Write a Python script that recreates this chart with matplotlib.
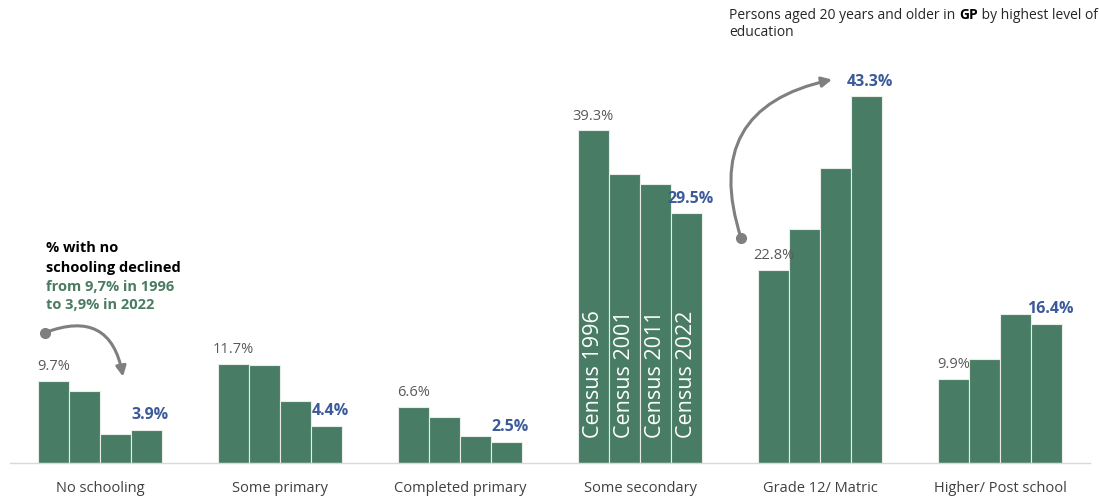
import matplotlib.pyplot as plt
import numpy as np

# Highest level of education, persons aged 20+ in GP (%)
categories = ['No schooling', 'Some primary', 'Completed primary',
              'Some secondary', 'Grade 12/ Matric', 'Higher/ Post school']
census_years = ['Census 1996', 'Census 2001', 'Census 2011', 'Census 2022']
c1996 = [9.7, 11.7, 6.6, 39.3, 22.8, 9.9]
c2001 = [8.5, 11.6, 5.4, 34.2, 27.7, 12.3]
c2011 = [3.4, 7.3, 3.2, 33.0, 34.9, 17.6]
c2022 = [3.9, 4.4, 2.5, 29.5, 43.3, 16.4]

green = '#487c65'
grey_txt = '#595959'
blue_txt = '#3b5a9a'

plt.rcParams['font.family'] = ['Open Sans', 'DejaVu Sans']

fig = plt.figure(figsize=(10.99, 4.97), dpi=100)
ax = fig.add_axes([10 / 1099, 34 / 497, 1080 / 1099, 463 / 497])

x = np.arange(len(categories))
w = 0.1725
series = [c1996, c2001, c2011, c2022]
for i, vals in enumerate(series):
    ax.bar(x + (i - 1.5) * w, vals, width=w, color=green,
           edgecolor='#e8ede9', linewidth=0.8, zorder=2)

# first and last value of each group
for j in range(len(categories)):
    ax.text(x[j] - 1.5 * w, c1996[j] + 0.8, f'{c1996[j]}%', ha='center',
            va='bottom', fontsize=10.5, color=grey_txt)
    ax.text(x[j] + 1.5 * w + 0.02, c2022[j] + 0.8, f'{c2022[j]}%', ha='center',
            va='bottom', fontsize=11.5, fontweight='bold', color=blue_txt)

# census labels inside the "Some secondary" bars
for i, lab in enumerate(census_years):
    ax.text(x[3] + (i - 1.5) * w, 3.0, lab, rotation=90, ha='center',
            va='bottom', fontsize=15.5, color='white')

ax.set_xlim(-0.5, 5.5)
ax.set_ylim(0, 54.7)
ax.set_yticks([])
ax.set_xticks(x)
ax.set_xticklabels(categories, fontsize=10.5, color='#404040')
ax.tick_params(axis='x', length=0, pad=13)
for s in ['top', 'right', 'left']:
    ax.spines[s].set_visible(False)
ax.spines['bottom'].set_color('#d9d9d9')
ax.spines['bottom'].set_linewidth(1)

# curved arrows
arrow_grey = '#7f7f7f'
ax.plot([-0.306], [15.4], 'o', color=arrow_grey, ms=7, zorder=3)
ax.annotate('', xy=(0.128, 10.2), xytext=(-0.306, 15.4),
            arrowprops=dict(arrowstyle='-|>,head_length=0.6,head_width=0.3',
                            color=arrow_grey, lw=2.2,
                            connectionstyle='arc3,rad=-0.6',
                            shrinkA=0, shrinkB=0))
ax.plot([3.561], [26.6], 'o', color=arrow_grey, ms=7, zorder=3)
ax.annotate('', xy=(4.067, 45.3), xytext=(3.561, 26.6),
            arrowprops=dict(arrowstyle='-|>,head_length=0.6,head_width=0.3',
                            color=arrow_grey, lw=2.2,
                            connectionstyle='arc3,rad=-0.55',
                            shrinkA=0, shrinkB=0))

# side note
note = [('% with no', 'black', 248), ('schooling declined', 'black', 268),
        ('from 9,7% in 1996', '#4a7c62', 287), ('to 3,9% in 2022', '#4a7c62', 305)]
for txt, col, py in note:
    fig.text(46 / 1099, 1 - py / 497, txt, fontsize=10.5, fontweight='bold',
             color=col, va='center')

# title, with GP in bold: pieces placed one after another on one baseline
renderer = fig.canvas.get_renderer()
px = 729
title_y = 1 - 19 / 497
for txt, wt, col in [('Persons aged 20 years and older in ', 'normal', '#262626'),
                     ('GP', 'bold', 'black'),
                     (' by highest level of', 'normal', '#262626')]:
    t = fig.text(px / 1099, title_y, txt, fontsize=10, fontweight=wt,
                 color=col, va='baseline')
    px += t.get_window_extent(renderer).width
fig.text(729 / 1099, 1 - 36 / 497, 'education', fontsize=10,
         color='#262626', va='baseline')

fig.savefig('out.png', dpi=100)
